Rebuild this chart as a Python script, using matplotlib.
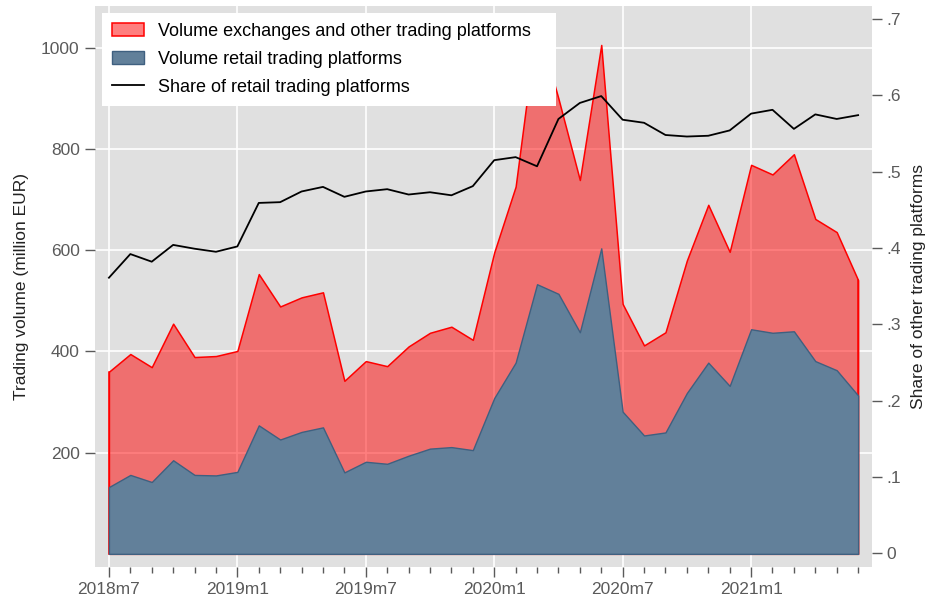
import matplotlib
matplotlib.use("Agg")
import matplotlib.pyplot as plt
from matplotlib.ticker import FixedLocator, MultipleLocator
from matplotlib.patches import Patch
from matplotlib.lines import Line2D

plt.rcParams['font.family'] = ['Liberation Sans', 'DejaVu Sans']

# meses 2018m7 .. 2021m6
meses = ["2018m7", "2018m8", "2018m9", "2018m10", "2018m11", "2018m12",
         "2019m1", "2019m2", "2019m3", "2019m4", "2019m5", "2019m6",
         "2019m7", "2019m8", "2019m9", "2019m10", "2019m11", "2019m12",
         "2020m1", "2020m2", "2020m3", "2020m4", "2020m5", "2020m6",
         "2020m7", "2020m8", "2020m9", "2020m10", "2020m11", "2020m12",
         "2021m1", "2021m2", "2021m3", "2021m4", "2021m5", "2021m6"]

volume_total = [360, 395, 369, 455, 389, 391, 401, 553, 489, 507, 517, 342,
                381, 371, 410, 437, 449, 423, 596, 726, 1050, 900, 739, 1006,
                494, 412, 438, 580, 690, 597, 769, 750, 790, 662, 636, 541]

volume_retail = [132, 156, 142, 185, 156, 155, 162, 254, 226, 241, 250, 161,
                 182, 178, 194, 208, 211, 205, 308, 378, 533, 514, 438, 604,
                 281, 234, 240, 318, 378, 332, 444, 437, 440, 381, 363, 313]

share_retail = [0.361, 0.392, 0.382, 0.404, 0.399, 0.395, 0.402, 0.459, 0.460,
                0.474, 0.480, 0.467, 0.474, 0.477, 0.470, 0.473, 0.469, 0.481,
                0.515, 0.519, 0.507, 0.569, 0.590, 0.599, 0.568, 0.564, 0.548,
                0.546, 0.547, 0.554, 0.576, 0.581, 0.556, 0.575, 0.569, 0.574]

x = list(range(len(meses)))

cor_azul = '#62809a'
cor_borda_azul = '#3f6080'
cor_tick = '#5a5a5a'

fig = plt.figure(figsize=(9.27, 6.01), dpi=100)
ax = fig.add_axes([0.1025, 0.0566, 0.8382, 0.9334])
ax.set_facecolor('#e0e0e0')

# areas
ax.fill_between(x, 0, volume_total, facecolor=(1, 0, 0, 0.5), edgecolor='red',
                linewidth=1.1, zorder=2)
ax.fill_between(x, 0, volume_retail, facecolor=cor_azul, edgecolor=cor_borda_azul,
                linewidth=1.0, zorder=3)
ax.plot([x[0], x[0]], [0, volume_total[0]], color='red', linewidth=1.1, zorder=2.5)
ax.plot([x[-1], x[-1]], [0, volume_total[-1]], color='red', linewidth=1.1, zorder=2.5)

ax.set_xlim(-0.65, 35.65)
ax.set_ylim(-26, 1083)
ax.set_yticks([200, 400, 600, 800, 1000])
ax.set_xticks(x[::6])
ax.set_xticklabels(meses[::6])
ax.xaxis.set_minor_locator(MultipleLocator(1))
ax.grid(True, which='major', color='white', linewidth=1.2, zorder=1)
ax.set_axisbelow(True)
for s in ax.spines.values():
    s.set_visible(False)
ax.tick_params(axis='both', which='major', labelsize=12.5, labelcolor=cor_tick,
               color=cor_tick, length=7, width=1)
ax.tick_params(axis='x', which='minor', color=cor_tick, length=4, width=1)
ax.tick_params(axis='y', which='major', pad=4)
ax.set_ylabel('Trading volume (million EUR)', fontsize=12.5, color='#222222', labelpad=9)

# eixo da direita
ax2 = ax.twinx()
ax2.plot(x, share_retail, color='black', linewidth=1.3, zorder=4)
ax2.set_ylim(-0.018, 0.717)
valores_share = [0, 0.1, 0.2, 0.3, 0.4, 0.5, 0.6, 0.7]
ax2.yaxis.set_major_locator(FixedLocator(valores_share))
ax2.set_yticklabels(['0', '.1', '.2', '.3', '.4', '.5', '.6', '.7'])
for s in ax2.spines.values():
    s.set_visible(False)
ax2.tick_params(axis='y', labelsize=12.5, labelcolor=cor_tick, color=cor_tick,
                length=7, width=1)
ax2.set_ylabel('Share of other trading platforms', fontsize=12.5, color='#222222',
               labelpad=7)

handles = [
    Patch(facecolor=(1, 0, 0, 0.5), edgecolor='red', linewidth=1.1),
    Patch(facecolor=cor_azul, edgecolor=cor_borda_azul, linewidth=1.0),
    Line2D([0], [0], color='black', linewidth=1.3),
]
labels = ['Volume exchanges and other trading platforms   ',
          'Volume retail trading platforms',
          'Share of retail trading platforms']
leg = ax2.legend(handles, labels, loc='upper left', bbox_to_anchor=(0.009, 0.9875),
                 borderaxespad=0, fontsize=13, frameon=True, fancybox=False,
                 framealpha=1, edgecolor='white', handlelength=1.78,
                 handleheight=0.7, labelspacing=0.6, borderpad=0.55,
                 handletextpad=0.78)
leg.get_frame().set_linewidth(0)
leg.set_zorder(10)

fig.savefig('out.png', dpi=100)
